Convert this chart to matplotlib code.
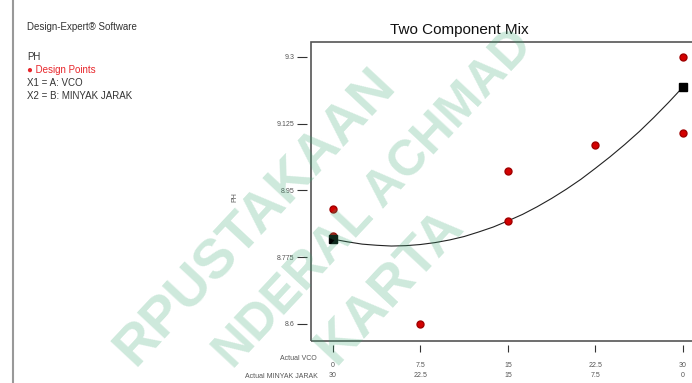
import matplotlib
matplotlib.use("Agg")
import matplotlib.pyplot as plt
from matplotlib.patches import Rectangle
from matplotlib.lines import Line2D

plt.rcParams['font.family'] = ['Liberation Sans', 'DejaVu Sans']

# design points (VCO, pH)
vco_pts = [0, 0, 7.5, 15, 15, 22.5, 30, 30]
ph_pts = [8.90, 8.83, 8.60, 9.00, 8.87, 9.07, 9.30, 9.10]

# model line
vco_line = [0, 1.25, 2.5, 3.75, 5, 6.25, 7.5, 8.75, 10, 11.25, 12.5, 13.75, 15,
            16.25, 17.5, 18.75, 20, 21.25, 22.5, 23.75, 25, 26.25, 27.5, 28.75, 30]
ph_line = [8.822, 8.815, 8.809, 8.806, 8.804, 8.805, 8.808, 8.813, 8.820,
           8.829, 8.841, 8.854, 8.870, 8.887, 8.907, 8.929, 8.953, 8.979,
           9.008, 9.038, 9.070, 9.104, 9.141, 9.180, 9.221]

# end points of the line (black squares)
vco_end = [0, 30]
ph_end = [8.822, 9.221]

yticks = [8.6, 8.775, 8.95, 9.125, 9.3]
ytick_labels = ['8.6', '8.775', '8.95', '9.125', '9.3']
xticks = [0, 7.5, 15, 22.5, 30]
vco_labels = ['0', '7.5', '15', '22.5', '30']
jarak_labels = ['30', '22.5', '15', '7.5', '0']

fig = plt.figure(figsize=(6.92, 3.83), dpi=100)

# left info panel
fig.add_artist(Line2D([13 / 692, 13 / 692], [0, 1], color='#999999', lw=1.5))
tc = '#333333'
fig.text(27 / 692, 1 - 27 / 383, 'Design-Expert® Software', fontsize=7, color=tc, va='center')
fig.text(27 / 692, 1 - 57 / 383, 'PH', fontsize=7, color=tc, va='center')
fig.text(27 / 692, 1 - 70 / 383, '\u25CF Design Points', fontsize=7, color='#e8262b', va='center')
fig.text(27 / 692, 1 - 83 / 383, 'X1 = A: VCO', fontsize=7, color=tc, va='center')
fig.text(27 / 692, 1 - 96 / 383, 'X2 = B: MINYAK JARAK', fontsize=7, color=tc, va='center')

ax = fig.add_axes([311 / 692, 1 - 341 / 383, (700 - 311) / 692, (341 - 42) / 383])
ax.set_xlim(-1.886, 31.46)
ax.set_ylim(8.555, 9.339)

ax.plot(vco_line, ph_line, color='#222222', lw=0.8, zorder=2)
ax.plot(vco_pts, ph_pts, 'o', color='#d40000', mec='#a00000', ms=5, zorder=3)
ax.plot(vco_end, ph_end, 's', color='black', ms=5.5, zorder=4, clip_on=False)

# ticks sit a bit away from the frame
for s in ['left', 'bottom']:
    ax.spines[s].set_position(('outward', 3))
    ax.spines[s].set_color('none')
for s in ['top', 'right']:
    ax.spines[s].set_visible(False)
ax.add_patch(Rectangle((0, 0), 1, 1, transform=ax.transAxes, fill=False,
                       ec='#555555', lw=1.2, clip_on=False))

ax.set_yticks(yticks)
ax.set_yticklabels(ytick_labels)
ax.set_xticks(xticks)
ax.set_xticklabels(vco_labels)
ax.tick_params(axis='y', direction='out', length=7, width=0.8, color='#333333',
               labelsize=5, labelcolor='#555555', pad=2)
ax.tick_params(axis='x', direction='out', length=5, width=0.8, color='#333333',
               labelsize=5, labelcolor='#555555', pad=7)

for x, lab in zip(xticks, jarak_labels):
    ax.text(x, -0.115, lab, transform=ax.get_xaxis_transform(), fontsize=5,
            color='#555555', ha='center', va='center')
fig.text(317 / 692, 1 - 358 / 383, 'Actual VCO', fontsize=5, color='#555555', ha='right', va='center')
fig.text(318 / 692, 1 - 376 / 383, 'Actual MINYAK JARAK', fontsize=5, color='#555555', ha='right', va='center')

fig.text(235 / 692, 1 - 197 / 383, 'PH', fontsize=5, color='#555555', rotation=90, ha='center', va='center')
fig.text(459 / 692, 1 - 30 / 383, 'Two Component Mix', fontsize=11, color='#111111',
         ha='center', va='center')

# library watermark (only the parts that show in the picture)
wm = dict(fontweight='bold', color='#3aa772', alpha=0.25, rotation=47,
          rotation_mode='anchor', ha='center', va='center', zorder=10)
fig.text(256 / 692, 1 - 218 / 383, 'RPUSTAKAAN', fontsize=40, **wm)
fig.text(374 / 692, 1 - 200 / 383, 'NDERAL ACHMAD', fontsize=36, **wm)
fig.text(390 / 692, 1 - 287 / 383, 'KARTA', fontsize=40, **wm)

fig.savefig('out.png', dpi=100)
